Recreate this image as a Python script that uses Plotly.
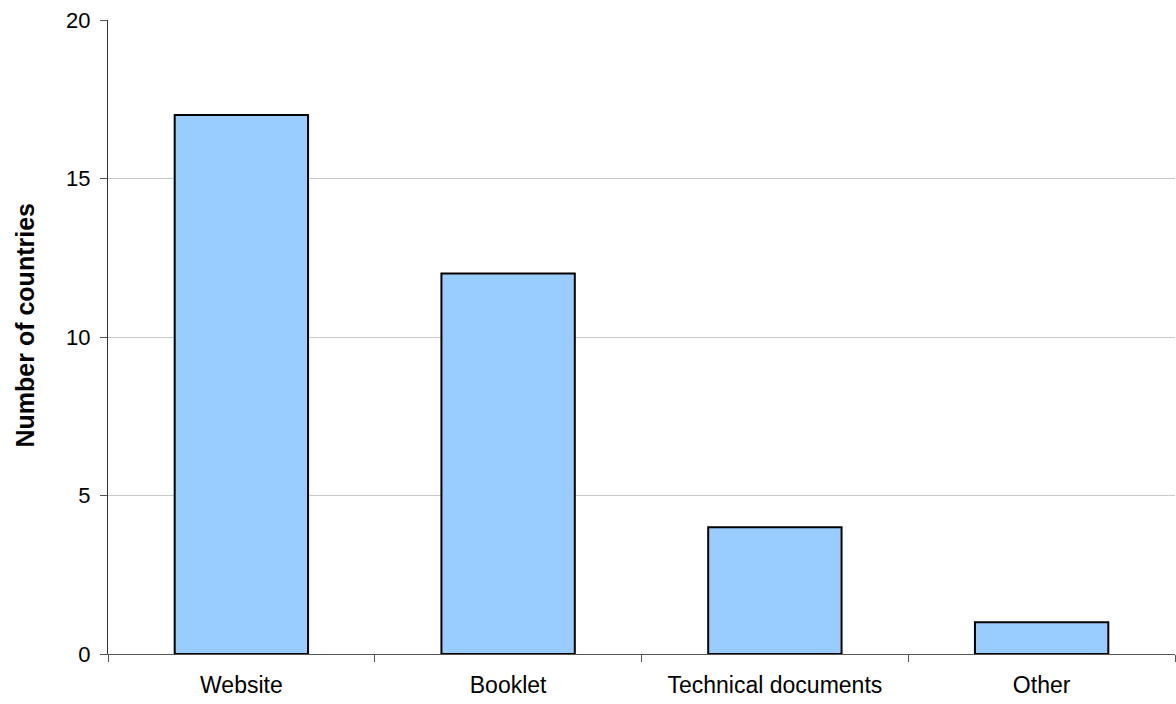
import plotly.graph_objects as go

categories = ["Website", "Booklet", "Technical documents", "Other"]
values = [17, 12, 4, 1]
y_ticks = [0, 5, 10, 15, 20]

fig = go.Figure()
fig.add_trace(go.Bar(
    x=categories, y=values, width=0.5,
    marker=dict(color="#99CCFF", line=dict(color="#000000", width=2)),
))

font = "Liberation Sans, Arial, sans-serif"
fig.update_layout(
    width=1176, height=704,
    margin=dict(l=108, r=1, t=20, b=50),
    plot_bgcolor="white", paper_bgcolor="white",
    showlegend=False,
    font=dict(family=font, size=22, color="#000000"),
)
fig.update_xaxes(
    type="category", range=[-0.5, 3.5],
    showline=True, linecolor="#555555", linewidth=1,
    ticks="outside", tickson="boundaries", ticklen=7, tickcolor="#555555",
    showgrid=False, tickfont=dict(family=font, size=23), ticklabelstandoff=10,
)
fig.update_yaxes(
    range=[0, 20], tickvals=y_ticks,
    showline=True, linecolor="#333333", linewidth=1,
    ticks="outside", ticklen=7, tickcolor="#555555",
    showgrid=True, gridcolor="#C8C8C8", gridwidth=1,
    zeroline=False, tickfont=dict(family=font, size=22), ticklabelstandoff=5,
)
fig.add_annotation(
    text="<b>Number of countries</b>", textangle=-90,
    xref="paper", yref="paper", x=(24 - 108) / 1067, y=(654 - 325.5) / 634,
    xanchor="center", yanchor="middle", showarrow=False,
    font=dict(family=font, size=25, color="#000000"),
)
fig.write_html("out.html")
